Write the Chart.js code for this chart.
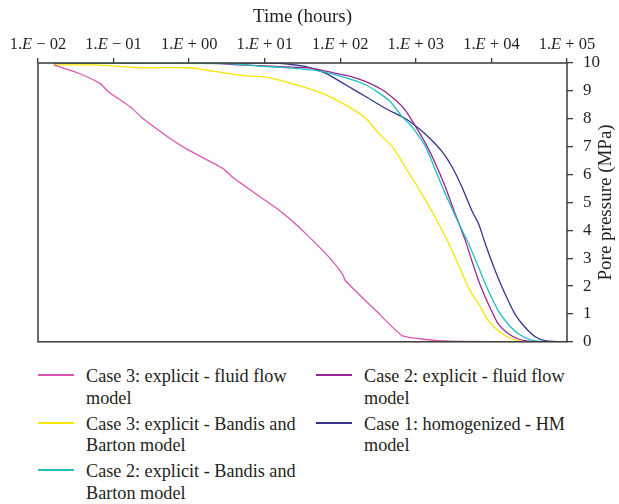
<!DOCTYPE html>
<html>
<head>
<meta charset="utf-8">
<script src="https://cdn.jsdelivr.net/npm/chart.js@4.4.0/dist/chart.umd.min.js"></script>
<style>
  html, body { margin: 0; padding: 0; background: #fff; }
  #wrap { position: relative; width: 619px; height: 504px; overflow: hidden; }
  #myChart { position: absolute; left: 0; top: 0; }
  .leg { position: absolute; font-family: "Liberation Serif", serif; font-size: 18.2px; line-height: 21.5px; color: #231f20; white-space: nowrap; }
  .leg .swatch { position: absolute; left: -48px; top: 8px; width: 36px; height: 2px; }
</style>
</head>
<body>
<div id="wrap">
  <canvas id="myChart" width="619" height="362"></canvas>
</div>
<script>
// time axis ticks (hours)
const tickVals = [0.01, 0.1, 1, 10, 100, 1000, 10000, 100000];

// Case 3: explicit - fluid flow
const c3FluidT = [0.0162, 0.0331, 0.066, 0.085, 0.166, 0.245, 0.562, 0.933, 2.82, 3.80, 9.44, 15.7, 21.4, 35.2, 71.4, 107, 117, 295, 661, 1200, 2000, 4000, 25000];
const c3FluidP = [9.93, 9.65, 9.27, 8.97, 8.43, 8.01, 7.29, 6.91, 6.21, 5.89, 5.13, 4.71, 4.41, 3.87, 3.03, 2.43, 2.19, 1.12, 0.22, 0.10, 0.04, 0.01, 0];

// Case 3: explicit - Bandis and Barton
const c3BandisT = [0.0162, 0.060, 0.224, 1.02, 2.29, 5.75, 9.44, 15.7, 31.6, 58.3, 119, 219, 324, 490, 724, 1349, 2239, 3311, 4519, 5495, 6761, 9120, 12300, 18620, 25120];
const c3BandisP = [9.93, 9.93, 9.83, 9.83, 9.69, 9.54, 9.51, 9.39, 9.15, 8.91, 8.49, 8.01, 7.47, 6.99, 6.27, 5.07, 3.99, 3.03, 2.19, 1.72, 1.36, 0.76, 0.40, 0.10, 0.01];

// Case 2: explicit - Bandis and Barton
const c2BandisT = [0.0162, 3.16, 9.44, 15.7, 42.7, 87.1, 219, 437, 661, 891, 1349, 1820, 2455, 3715, 5012, 6761, 9120, 12300, 16600, 22900, 33900, 50100];
const c2BandisP = [10, 9.98, 9.88, 9.85, 9.75, 9.57, 9.21, 8.67, 8.07, 7.71, 6.99, 6.15, 5.31, 4.23, 3.51, 2.67, 1.83, 1.12, 0.64, 0.28, 0.06, 0];

// Case 2: explicit - fluid flow
const c2FluidT = [0.0162, 2.09, 4.68, 9.44, 15.7, 42.7, 87.1, 132, 219, 363, 537, 724, 1000, 1349, 1820, 2455, 3311, 4519, 5495, 6761, 8318, 10000, 12300, 16600, 22900, 30900, 39800];
const c2FluidP = [10, 9.99, 9.93, 9.90, 9.87, 9.81, 9.63, 9.53, 9.33, 9.03, 8.67, 8.31, 7.71, 7.11, 6.39, 5.55, 4.59, 3.63, 2.91, 2.19, 1.59, 1.12, 0.64, 0.30, 0.10, 0.02, 0];

// Case 1: homogenized - HM
const c1HomT = [0.0162, 10, 15.7, 35.2, 64.6, 119, 219, 398, 724, 1096, 1622, 2239, 3020, 4074, 5495, 6761, 8318, 11220, 15140, 20420, 27860, 38020, 51290, 85110];
const c1HomP = [10, 10, 9.99, 9.87, 9.63, 9.21, 8.79, 8.37, 8.01, 7.65, 7.23, 6.81, 6.27, 5.55, 4.71, 4.23, 3.51, 2.55, 1.72, 1.00, 0.52, 0.18, 0.04, 0];

const seriesNames = [
    ['Case 3: explicit - fluid flow', 'model'],
    ['Case 3: explicit - Bandis and', 'Barton model'],
    ['Case 2: explicit - Bandis and', 'Barton model'],
    ['Case 2: explicit - fluid flow', 'model'],
    ['Case 1: homogenized - HM', 'model']
];
const seriesColors = ['#d957b0', '#f7e600', '#1fbfbf', '#9a2592', '#34348f'];
const seriesT = [c3FluidT, c3BandisT, c2BandisT, c2FluidT, c1HomT];
const seriesP = [c3FluidP, c3BandisP, c2BandisP, c2FluidP, c1HomP];

const serif = '"Liberation Serif", serif';
const ink = '#231f20';

const datasets = seriesNames.map((name, i) => ({
    label: name.join(' '),
    data: seriesT[i].map((t, k) => ({ x: t, y: seriesP[i][k] })),
    borderColor: seriesColors[i],
    borderWidth: 1.3,
    pointRadius: 0,
    fill: false,
    tension: 0.2
}));

// frame round the plot, axis titles and "1.E + 02" style tick labels
const decorPlugin = {
    id: 'decor',
    afterDraw(chart) {
        const c = chart.ctx;
        const a = chart.chartArea;
        c.save();
        c.strokeStyle = '#3a3a3a';
        c.lineWidth = 1.5;
        c.strokeRect(a.left, a.top, a.right - a.left, a.bottom - a.top);

        c.fillStyle = ink;
        c.textBaseline = 'middle';
        const xs = chart.scales.x;
        tickVals.forEach(v => {
            const e = Math.round(Math.log10(v));
            const parts = [
                ['1.', false],
                ['E', true],
                [e < 0 ? ' \u2212 ' : ' + ', false],
                [String(Math.abs(e)).padStart(2, '0'), false]
            ];
            let w = 0;
            parts.forEach(p => {
                c.font = (p[1] ? 'italic ' : '') + '16.5px ' + serif;
                w += c.measureText(p[0]).width;
            });
            let px = xs.getPixelForValue(v) - w / 2;
            c.textAlign = 'left';
            parts.forEach(p => {
                c.font = (p[1] ? 'italic ' : '') + '16.5px ' + serif;
                c.fillText(p[0], px, 45);
                px += c.measureText(p[0]).width;
            });
        });

        c.font = '19px ' + serif;
        c.textAlign = 'center';
        c.fillText('Time (hours)', (a.left + a.right) / 2, 17);

        c.translate(606, (a.top + a.bottom) / 2);
        c.rotate(-Math.PI / 2);
        c.fillText('Pore pressure (MPa)', 0, 0);
        c.restore();
    }
};

const ctx = document.getElementById('myChart').getContext('2d');
const chart = new Chart(ctx, {
    type: 'line',
    data: { datasets: datasets },
    options: {
        responsive: false,
        animation: false,
        layout: { padding: { left: 38, right: 0, top: 0, bottom: 9 } },
        plugins: { legend: { display: false }, tooltip: { enabled: false } },
        scales: {
            x: {
                type: 'logarithmic',
                position: 'top',
                min: 0.01,
                max: 100000,
                afterBuildTicks: s => { s.ticks = tickVals.map(v => ({ value: v })); },
                afterFit: s => { s.height = 63; },
                ticks: { color: 'rgba(0,0,0,0)', autoSkip: false, maxRotation: 0, font: { family: serif, size: 16 } },
                grid: { drawOnChartArea: false, tickLength: 5, color: '#3a3a3a', lineWidth: 1.3 },
                border: { display: false }
            },
            y: {
                position: 'right',
                min: 0,
                max: 10,
                afterFit: s => { s.width = 52; },
                ticks: { stepSize: 1, color: ink, padding: 10, font: { family: serif, size: 17 } },
                grid: { drawOnChartArea: false, tickLength: 6, color: '#3a3a3a', lineWidth: 1.3 },
                border: { display: false }
            }
        }
    },
    plugins: [decorPlugin]
});

// legend below the chart, two columns
const wrap = document.getElementById('wrap');
const legPos = [[86, 366], [86, 413.5], [86, 461], [364, 366], [364, 413.5]];
seriesNames.forEach((name, i) => {
    const item = document.createElement('div');
    item.className = 'leg';
    item.style.left = legPos[i][0] + 'px';
    item.style.top = legPos[i][1] + 'px';
    const sw = document.createElement('span');
    sw.className = 'swatch';
    sw.style.background = seriesColors[i];
    item.appendChild(sw);
    item.appendChild(document.createTextNode(name[0]));
    item.appendChild(document.createElement('br'));
    item.appendChild(document.createTextNode(name[1]));
    wrap.appendChild(item);
});
</script>
</body>
</html>
